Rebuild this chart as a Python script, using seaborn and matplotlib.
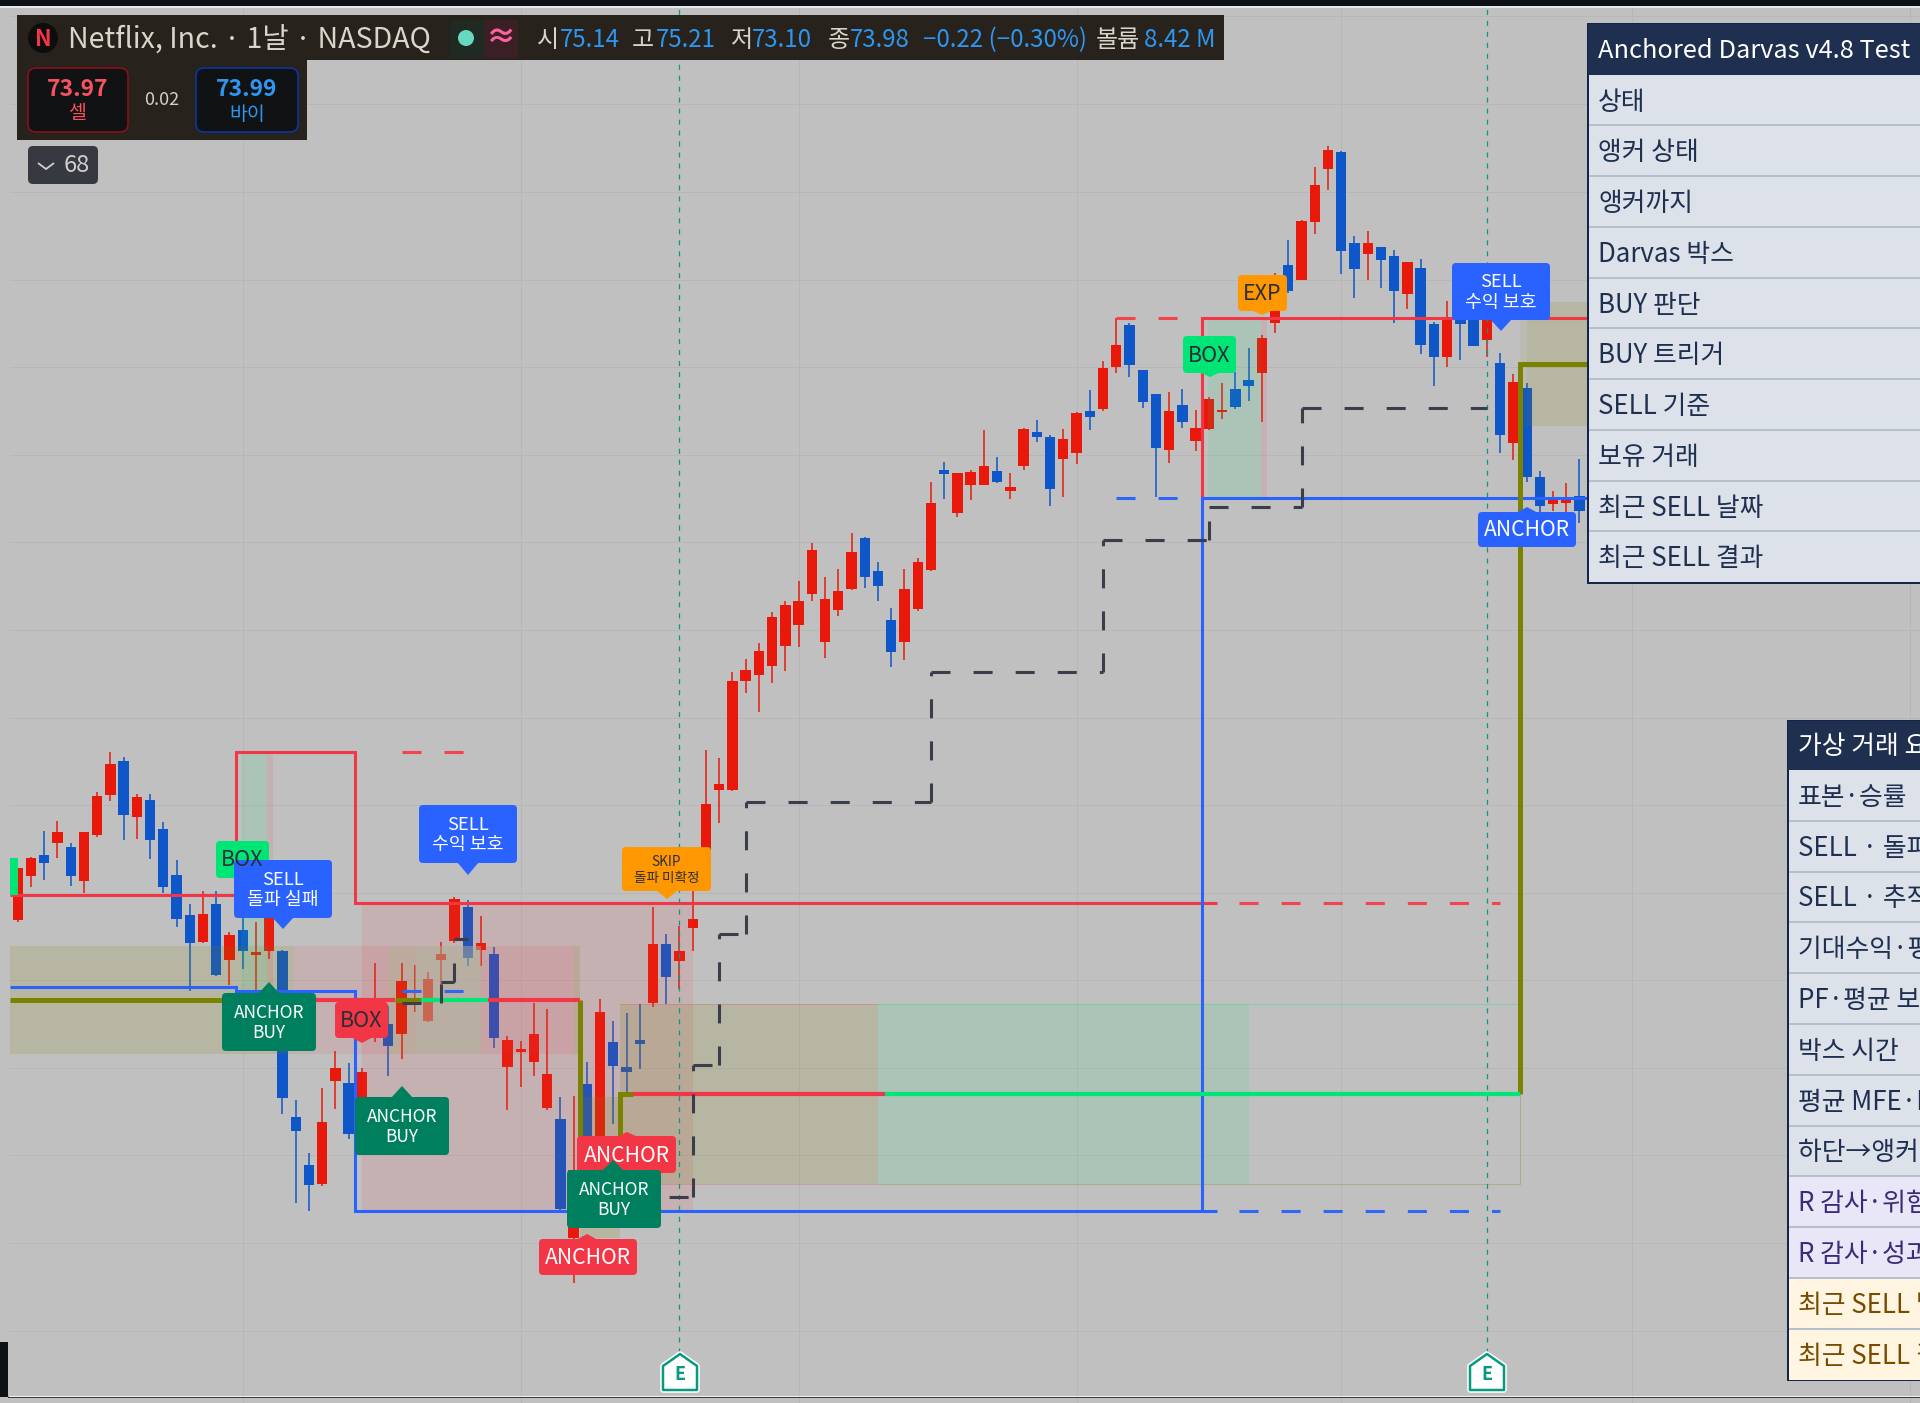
import matplotlib
matplotlib.use('Agg')
import matplotlib.pyplot as plt
import seaborn as sns
import numpy as np
import pandas as pd
from matplotlib.patches import Rectangle, FancyBboxPatch, Polygon, Circle
from matplotlib import patheffects as pe

# daily bars (price scale is arbitrary, no axis is shown)
opens = [48.3, 52.7, 54.8, 56.0, 55.6, 52.2, 56.8, 60.8, 64.2, 58.6, 60.3, 57.4, 52.8, 48.8, 46.1, 49.9, 44.3, 47.3, 44.8, 45.2,
         45.2, 28.6, 23.8, 21.9, 32.2, 32.0, 30.3, 37.0, 37.9, 36.9, 40.0, 38.2, 44.3, 46.2, 49.6, 45.3, 44.9, 33.6, 35.1, 34.1,
         29.5, 28.4, 16.5, 31.9, 23.6, 36.1, 33.6, 36.3, 40.0, 45.9, 44.2, 47.5, 52.2, 61.3, 61.3, 72.2, 72.8, 73.7, 75.7, 77.8,
         80.9, 76.1, 79.3, 81.4, 86.5, 83.2, 78.3, 76.1, 79.4, 83.3, 93.3, 89.0, 91.8, 91.8, 93.2, 91.2, 93.7, 97.1, 96.6, 94.4,
         95.0, 99.2, 99.4, 103.6, 107.8, 103.3, 100.9, 95.3, 99.8, 96.2, 97.4, 99.1, 101.4, 102.3, 103.0, 108.0, 113.8, 112.3, 118.1, 123.4,
         125.1, 116.0, 114.9, 115.6, 114.7, 110.9, 113.5, 107.9, 104.6, 110.0, 110.6, 106.3, 104.0, 96.0, 101.5, 92.6, 89.9, 90.0, 90.7]
highs = [53.5, 54.6, 57.2, 58.2, 56.0, 57.1, 61.1, 65.1, 64.6, 60.9, 60.9, 58.1, 54.3, 49.9, 51.2, 51.2, 47.1, 48.6, 48.1, 49.6,
         45.3, 30.3, 25.0, 31.5, 35.2, 34.0, 33.5, 44.0, 39.7, 44.0, 43.8, 43.1, 46.1, 50.6, 50.3, 48.7, 45.6, 36.7, 36.2, 40.0,
         39.4, 30.6, 30.7, 34.1, 40.4, 38.2, 39.0, 39.9, 49.6, 46.9, 47.7, 52.1, 65.3, 64.5, 73.1, 74.4, 76.0, 79.1, 80.2, 82.2,
         86.0, 82.6, 83.4, 87.0, 86.6, 84.1, 79.5, 83.4, 84.5, 92.1, 94.1, 93.0, 93.3, 97.3, 94.6, 93.0, 97.5, 98.3, 96.8, 97.4,
         99.1, 101.3, 104.2, 108.5, 108.0, 103.3, 100.9, 101.1, 101.4, 99.3, 100.6, 102.0, 103.1, 105.5, 106.8, 113.0, 116.3, 118.3, 123.6, 125.7,
         125.2, 116.7, 117.2, 115.6, 115.3, 114.1, 114.4, 108.1, 110.2, 111.3, 111.5, 110.0, 105.0, 102.9, 102.0, 93.2, 91.2, 92.0, 94.4]
lows = [48.1, 51.6, 52.3, 54.5, 51.7, 51.0, 56.6, 60.2, 56.3, 56.4, 54.4, 51.0, 47.6, 41.2, 46.0, 42.7, 41.8, 43.4, 41.3, 44.4,
        28.9, 20.0, 19.2, 21.7, 29.4, 26.4, 28.3, 36.1, 32.7, 34.4, 39.1, 38.1, 40.3, 46.0, 43.7, 43.7, 35.5, 29.3, 31.6, 32.7,
        29.3, 19.2, 12.0, 22.6, 23.0, 27.9, 31.0, 33.4, 39.6, 39.9, 41.4, 45.2, 51.8, 58.0, 61.2, 71.0, 69.1, 72.0, 73.2, 75.6,
        80.2, 74.5, 78.7, 81.3, 81.5, 80.2, 73.6, 74.3, 79.2, 83.2, 90.4, 88.6, 90.3, 91.8, 92.0, 90.4, 93.3, 96.1, 89.7, 90.6,
        93.9, 97.3, 99.2, 103.0, 102.6, 99.5, 90.6, 94.0, 97.5, 95.2, 97.3, 98.4, 99.4, 100.2, 98.1, 107.0, 111.0, 112.3, 116.9, 121.3,
        112.9, 110.5, 112.3, 111.5, 108.0, 109.4, 104.9, 101.7, 103.6, 104.3, 105.7, 104.6, 95.0, 94.3, 92.1, 89.1, 89.2, 89.1, 88.0]
closes = [53.5, 54.5, 54.0, 57.1, 52.7, 57.1, 60.7, 63.9, 58.8, 60.6, 56.3, 51.6, 48.4, 46.0, 48.9, 42.8, 46.8, 45.2, 45.1, 48.6,
          30.5, 27.2, 21.8, 28.1, 33.5, 26.9, 33.1, 39.3, 35.7, 42.2, 40.5, 42.4, 44.9, 50.4, 44.5, 46.0, 36.5, 36.3, 35.4, 36.9,
          32.9, 19.4, 23.3, 23.6, 39.1, 33.7, 33.1, 35.9, 45.9, 42.6, 45.2, 48.4, 59.9, 61.9, 72.2, 73.3, 75.2, 78.6, 79.8, 80.2,
          85.3, 80.4, 81.2, 85.1, 82.6, 81.7, 75.1, 81.4, 84.1, 90.0, 92.9, 93.0, 93.1, 93.7, 92.1, 91.6, 97.4, 96.6, 91.4, 96.4,
          99.0, 98.6, 103.5, 105.8, 103.8, 100.1, 95.5, 99.2, 98.1, 97.5, 100.4, 99.3, 99.6, 101.7, 106.5, 110.0, 111.2, 118.2, 121.8, 125.3,
          115.2, 113.4, 116.0, 114.3, 111.2, 114.1, 105.8, 104.6, 108.5, 107.9, 105.7, 108.3, 96.8, 102.1, 92.6, 89.7, 90.4, 90.4, 89.2]

grid_bars = [17, 38, 59, 80, 100, 122, 143]
grid_prices = [7.25, 16.0, 24.8, 33.5, 42.3, 51.0, 59.8, 68.5, 77.3, 86.1, 94.8, 103.6, 112.3, 121.1, 129.9, 138.7]
earnings_bars = [50, 111]

# anchored levels: (bars, prices)
res_bars = [-0.6, 16.5, 16.5, 25.5, 25.5, 90.6]
res_prices = [50.8, 50.8, 65.1, 65.1, 50.0, 50.0]
res2_bars = [89.5, 89.5, 125]
res2_prices = [90.5, 108.5, 108.5]
sup_bars = [-0.6, 16.5, 16.5, 25.5, 25.5, 90.6]
sup_prices = [41.6, 41.6, 41.2, 41.2, 19.2, 19.2]
sup2_bars = [89.5, 89.5, 125]
sup2_prices = [19.2, 90.5, 90.5]
olive_paths = [([-0.6, 20.9], [40.3, 40.3]), ([28.5, 30.5], [40.3, 40.3]),
               ([42.5, 42.5, 45.5, 45.5, 46.5], [40.3, 20.0, 20.0, 30.9, 30.9]),
               ([113.5, 113.5, 125], [30.9, 103.9, 103.9])]
red_thick = [([20.9, 28.5], [40.3, 40.3]), ([35.5, 42.5], [40.3, 40.3]), ([46.5, 65.5], [30.9, 30.9])]
green_thick = [([30.5, 35.5], [40.3, 40.3]), ([65.5, 113.5], [30.9, 30.9])]

# dashed projections (start bar, end bar, price)
red_dash = [(29.0, 34.0, 65.1), (92.3, 112.0, 50.0), (83.0, 88.2, 108.5)]
blue_dash = [(29.0, 34.0, 41.2), (92.3, 112.0, 19.2), (83.0, 88.2, 90.5)]

# stepped trailing line, each leg starts a new dash run
trail1_bars = [29, 32, 32, 33, 33, 34]
trail1_prices = [40.0, 40.0, 42.1, 42.1, 46.4, 46.4]
trail2_bars = [46, 51, 51, 53, 53, 55, 55, 69, 69, 82, 82, 90, 90, 97, 97, 111]
trail2_prices = [20.6, 20.6, 33.8, 33.8, 46.9, 46.9, 60.1, 60.1, 73.1, 73.1, 86.3, 86.3, 89.6, 89.6, 99.5, 99.5]

OLIVE = (0.5, 0.5, 0.0, 0.15)
PINK = (0.95, 0.21, 0.27, 0.11)
GREEN = (0.0, 0.9, 0.46, 0.10)
# tinted zones: bar from, bar to, price top, price bottom, colour
zones = [(-0.6, 20.9, 45.7, 34.9, OLIVE), (20.9, 28, 45.7, 34.9, PINK), (28, 30, 45.7, 34.9, (0.5, 0.5, 0.0, 0.12)),
         (30, 35, 45.7, 34.9, (0.64, 0.75, 0.62, 0.5)), (35, 42, 45.7, 34.9, PINK), (42, 42.5, 45.7, 34.9, OLIVE),
         (26, 51, 49.8, 19.2, PINK), (45.5, 65, 39.9, 21.9, OLIVE), (65, 93, 39.9, 21.9, GREEN),
         (42.5, 45.5, 30.6, 16.5, OLIVE), (113.5, 114, 110.1, 97.7, (0.5, 0.5, 0.0, 0.07)),
         (114, 125, 110.1, 97.7, OLIVE), (16.9, 18.8, 65.1, 41.2, GREEN), (18.8, 19.3, 65.1, 41.2, PINK),
         (89.9, 93.9, 108.5, 90.5, GREEN), (93.9, 94.4, 108.5, 90.5, PINK)]

table1_rows = ['상태', '앵커 상태', '앵커까지', 'Darvas 박스', 'BUY 판단', 'BUY 트리거', 'SELL 기준', '보유 거래',
               '최근 SELL 날짜', '최근 SELL 결과']
table2_rows = ['표본·승률', 'SELL · 돌파 실패', 'SELL · 추적 보호', '기대수익·평균 R', 'PF·평균 보유', '박스 시간',
               '평균 MFE·MAE', '하단→앵커 거리', 'R 감사·위험', 'R 감사·성과', '최근 SELL 날짜', '최근 SELL 결과']

BG = '#c0c0c0'
UP = '#e8190a'
DOWN = '#0f57c8'
RED = '#f23645'
BLUE = '#2962ff'
TEAL = '#089981'
NAVY = '#1e2f4f'

sns.set_theme(style='white', rc={'axes.facecolor': BG, 'figure.facecolor': BG, 'lines.scale_dashes': False,
                                 'lines.solid_capstyle': 'butt', 'lines.dash_capstyle': 'butt',
                                 'lines.solid_joinstyle': 'miter'})
plt.rcParams['font.family'] = ['Noto Sans CJK KR', 'DejaVu Sans']

df = pd.DataFrame({'open': opens, 'high': highs, 'low': lows, 'close': closes})
df['bar'] = np.arange(len(df))
df['color'] = np.where(df['close'] >= df['open'], UP, DOWN)

fig = plt.figure(figsize=(19.2, 14.03), dpi=100)
ax = fig.add_axes([0, 0, 1, 1])
ax.set_xlim(-1.34, 143.73)
ax.set_ylim(0, 140.3)
ax.set_xticks(grid_bars)
ax.set_yticks(grid_prices)
ax.grid(True, color='#b7b7b7', linewidth=0.7)
ax.set_axisbelow(True)
ax.tick_params(length=0, labelbottom=False, labelleft=False)
sns.despine(ax=ax, left=True, bottom=True)

ax.vlines(df['bar'], df['low'], df['high'], colors=df['color'], linewidth=1.1, zorder=2)
ax.bar(df['bar'], (df['close'] - df['open']).abs(), bottom=df[['open', 'close']].min(axis=1),
       width=0.78, color=df['color'], linewidth=0, zorder=2.1)

for x0, x1, top, bot, col in zones:
    ax.add_patch(Rectangle((x0, bot), x1 - x0, top - bot, facecolor=col, edgecolor='none', zorder=3))
# thin outline of the big zone
ax.plot([45.5, 65], [39.9, 39.9], color=RED, alpha=0.25, lw=0.7, zorder=3)
ax.plot([45.5, 65], [21.9, 21.9], color=RED, alpha=0.25, lw=0.7, zorder=3)
ax.plot([65, 113.5], [39.9, 39.9], color='#00e676', alpha=0.3, lw=0.7, zorder=3)
ax.plot([65, 113.5, 113.5], [21.9, 21.9, 30.9], color='#808000', alpha=0.3, lw=0.7, zorder=3)

for bar in earnings_bars:
    ax.plot([bar, bar], [5.0, 139.6], color=TEAL, lw=0.9, ls=(0, (3.6, 4.3)), zorder=3.5)


def level(xs, ys, color, lw, **kws):
    sns.lineplot(x=xs, y=ys, estimator=None, sort=False, color=color, linewidth=lw, ax=ax, legend=False, zorder=4, **kws)


level(res_bars, res_prices, RED, 2.2)
level(res2_bars, res2_prices, RED, 2.2)
level(sup_bars, sup_prices, BLUE, 2.2)
level(sup2_bars, sup2_prices, BLUE, 2.2)
for xs, ys in olive_paths:
    level(xs, ys, '#7a8300', 3.6)
for xs, ys in red_thick:
    level(xs, ys, RED, 3.0)
for xs, ys in green_thick:
    level(xs, ys, '#00e676', 3.0)
for x0, x1, p in red_dash:
    level([x0, x1], [p, p], '#f2434f', 2.2, linestyle=(0, (13.7, 16.6)))
for x0, x1, p in blue_dash:
    level([x0, x1], [p, p], '#2f66f5', 2.2, linestyle=(0, (13.7, 16.6)))
for bars, prices in [(trail1_bars, trail1_prices), (trail2_bars, trail2_prices)]:
    for k in range(len(bars) - 1):
        level(bars[k:k + 2], prices[k:k + 2], '#3a3e4a', 2.2, linestyle=(0, (13.7, 16.6)))

# screen overlay in pixels for signal tags, header and tables
ov = fig.add_axes([0, 0, 1, 1], facecolor='none')
ov.set_xlim(0, 1920)
ov.set_ylim(1403, 0)
ov.axis('off')


def rect(x0, y0, x1, y1, color, **kws):
    ov.add_patch(Rectangle((x0, y0), x1 - x0, y1 - y0, facecolor=color, edgecolor=kws.pop('edge', 'none'), **kws))


def tag(x0, y0, x1, y1, lines, color, tc, size, tip_x=None, tip_y=None):
    ov.add_patch(FancyBboxPatch((x0 + 3, y0 + 3), x1 - x0 - 6, y1 - y0 - 6, boxstyle='round,pad=3,rounding_size=4',
                                facecolor=color, edgecolor='none', zorder=6))
    if tip_x is not None:
        base = y1 - 1 if tip_y > y1 else y0 + 1
        ov.add_patch(Polygon([(tip_x - 11, base), (tip_x + 11, base), (tip_x, tip_y)], facecolor=color,
                             edgecolor='none', zorder=6))
    cy = (y0 + y1) / 2 + 1
    gap = (y1 - y0) * 0.36
    for n, line in enumerate(lines):
        yy = cy + (n - (len(lines) - 1) / 2) * gap
        ov.text((x0 + x1) / 2, yy, line, color=tc, fontsize=size, ha='center', va='center', zorder=7)


rect(0, 6, 10, 1397, BG, zorder=1)
rect(0, 0, 1920, 6, '#0c0f14')
rect(0, 6, 1920, 7.5, '#e6e6e6')
rect(0, 1342, 8, 1397, '#0c1114', zorder=2)
ov.plot([8, 1920], [1397, 1397], color='#111417', lw=1.2)
ov.plot([8, 1920], [1395.6, 1395.6], color='#f0f0f0', lw=0.8)

INK = '#2a2e39'
GRN = '#007f5f'
rect(10, 858, 18, 895, '#00e676', zorder=6)
tag(216, 841, 269, 878, ['BOX'], '#00e676', INK, 15.5)
tag(222, 993, 316, 1051, ['ANCHOR', 'BUY'], GRN, 'white', 12.5, 269, 982)
tag(234, 860, 332, 918, ['SELL', '돌파 실패'], BLUE, 'white', 13.2, 283, 929)
tag(335, 1002, 388, 1038, ['BOX'], RED, INK, 15.5, 362, 1043)
tag(355, 1097, 449, 1155, ['ANCHOR', 'BUY'], GRN, 'white', 12.5, 402, 1086)
tag(419, 805, 517, 863, ['SELL', '수익 보호'], BLUE, 'white', 13.2, 468, 875)
tag(622, 847, 711, 891, ['SKIP', '돌파 미확정'], '#ff9800', INK, 9.8, 667, 899)
tag(577, 1136, 676, 1173, ['ANCHOR'], RED, 'white', 15.2, 627, 1132)
tag(539, 1239, 637, 1275, ['ANCHOR'], RED, 'white', 15.2, 587, 1234)
tag(567, 1170, 661, 1228, ['ANCHOR', 'BUY'], GRN, 'white', 12.5, 613, 1160)
tag(1238, 275, 1287, 311, ['EXP'], '#ff9800', INK, 15.5, 1262, 315)
tag(1183, 336, 1236, 373, ['BOX'], '#00e676', INK, 15.5, 1210, 377)
tag(1452, 263, 1550, 320, ['SELL', '수익 보호'], BLUE, 'white', 13.2, 1501, 331)
tag(1478, 512, 1576, 547, ['ANCHOR'], BLUE, 'white', 15.2, 1527, 507)

# earnings markers
for cx in [680, 1487]:
    ov.add_patch(Polygon([(cx - 17, 1390), (cx - 17, 1366), (cx, 1354), (cx + 17, 1366), (cx + 17, 1390)],
                         facecolor='white', edgecolor=TEAL, lw=1.8, joinstyle='round', zorder=6,
                         path_effects=[pe.Stroke(linewidth=4, foreground='white'), pe.Normal()]))
    ov.text(cx, 1374, 'E', color=TEAL, fontsize=13, fontweight='bold', ha='center', va='center', zorder=7)

# symbol header
HDR = '#27221b'
rect(17, 15, 1224, 60, HDR, zorder=5)
rect(17, 60, 307, 140, HDR, zorder=5)
ov.add_patch(Circle((43, 38), 15, facecolor='#0d0d0d', edgecolor='none', zorder=6))
ov.text(43, 39, 'N', color='#f23645', fontsize=16, fontweight='bold', ha='center', va='center', zorder=7)
ov.text(68, 40, 'Netflix, Inc. · 1날 · NASDAQ', color='#d9d5cc', fontsize=20.6, ha='left', va='center', zorder=7)
rect(450, 20, 484, 58, '#1f2a22', zorder=6)
rect(484, 20, 518, 58, '#3a2024', zorder=6)
ov.add_patch(Circle((466, 38), 8, facecolor='#66d9c0', edgecolor='none', zorder=7))
ov.text(501, 38, '≈', color='#ff5fa2', fontsize=22, fontweight='bold', ha='center', va='center', zorder=7)
WHT = '#d9d5cc'
QUOTE = '#2e96f0'
header_parts = [(537, '시', WHT), (560, '75.14', QUOTE), (632, '고', WHT), (656, '75.21', QUOTE), (731, '저', WHT),
                (752, '73.10', QUOTE), (828, '종', WHT), (850, '73.98', QUOTE), (923, '−0.22 (−0.30%)', QUOTE),
                (1096, '볼륨', WHT), (1144, '8.42 M', QUOTE)]
for hx, txt, col in header_parts:
    ov.text(hx, 40, txt, color=col, fontsize=17.3, ha='left', va='center', zorder=7)

ov.add_patch(FancyBboxPatch((32, 72), 92, 56, boxstyle='round,pad=4,rounding_size=8', facecolor='#111214',
                            edgecolor='#8a0f1c', lw=1.2, zorder=6))
ov.add_patch(FancyBboxPatch((200, 72), 94, 56, boxstyle='round,pad=4,rounding_size=8', facecolor='#111214',
                            edgecolor='#0b35a0', lw=1.2, zorder=6))
ov.text(78, 90, '73.97', color='#f7525f', fontsize=16.5, fontweight='bold', ha='center', va='center', zorder=7)
ov.text(78, 114, '셀', color='#f7525f', fontsize=14, ha='center', va='center', zorder=7)
ov.text(247, 90, '73.99', color='#2e96f0', fontsize=16.5, fontweight='bold', ha='center', va='center', zorder=7)
ov.text(247, 114, '바이', color='#2e96f0', fontsize=14, ha='center', va='center', zorder=7)
ov.text(162, 100, '0.02', color='#cfcfcf', fontsize=13, ha='center', va='center', zorder=7)

ov.add_patch(FancyBboxPatch((31, 149), 64, 32, boxstyle='round,pad=3,rounding_size=5', facecolor='#363a40',
                            edgecolor='none', zorder=6))
ov.plot([38, 46, 54], [163, 169, 163], color='#d0d0d0', lw=1.3, zorder=7)
ov.text(77, 166, '68', color='#d0d0d0', fontsize=17, ha='center', va='center', zorder=7)


def table(x0, top, header_bottom, row_h, header, rows, styles, size, head_size):
    n = len(rows)
    bottom = header_bottom + row_h * n
    rect(x0, top, 1920, bottom + 1.5, '#15254a', zorder=8)
    rect(x0 + 1, top + 1, 1920, header_bottom, NAVY, zorder=8)
    ov.text(x0 + 11, (top + header_bottom) / 2 + 2, header, color='white', fontsize=head_size, ha='left', va='center',
            zorder=9, clip_on=True)
    for n_row, label in enumerate(rows):
        y0 = header_bottom + n_row * row_h
        fc, tc = styles[n_row]
        rect(x0 + 2, y0, 1920, y0 + row_h, fc, zorder=8)
        if n_row:
            rect(x0 + 2, y0 - 1, 1920, y0 + 1, '#b8bfcc', zorder=8.5)
        ov.text(x0 + 11, y0 + row_h / 2 + 2, label, color=tc, fontsize=size, ha='left', va='center', zorder=9, clip_on=True)


plain = ('#dce1ea', NAVY)
audit = ('#e9e6f7', '#3c2a7a')
recent = ('#fff5e0', '#7a4a00')
table(1587, 23, 74.7, 50.75, 'Anchored Darvas v4.8 Test', table1_rows, [plain] * 10, 18.6, 18.3)
table(1787, 720, 770, 50.8, '가상 거래 요약', table2_rows, [plain] * 8 + [audit] * 2 + [recent] * 2, 18.6, 18.6)

fig.savefig('out.png', dpi=100, facecolor=BG)
